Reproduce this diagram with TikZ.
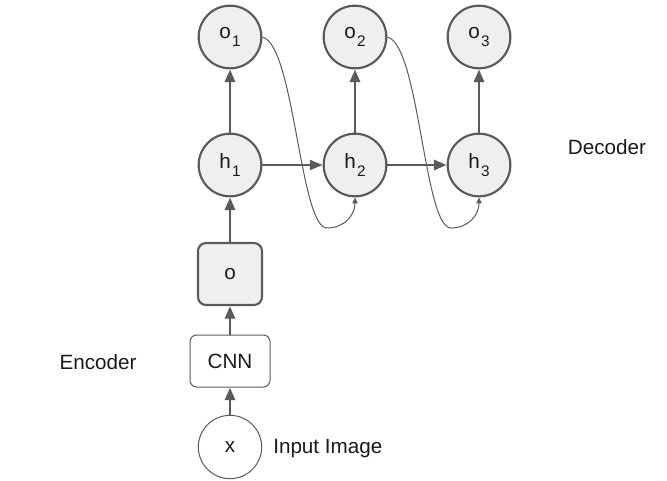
\documentclass[tikz,border=0pt]{standalone}
\usepackage{fontspec}
\setmainfont{Liberation Sans}
\usepackage{xcolor}
\usepackage{tikz}
\usetikzlibrary{arrows.meta}
\definecolor{edge}{HTML}{5A5A5A}
\definecolor{cell}{HTML}{EFEFEF}
\definecolor{ink}{HTML}{1A1A1A}
\newcommand{\lbl}{\fontsize{15.5}{18}\selectfont}
\newcommand{\idx}[1]{\kern0.8pt\raisebox{-0.8ex}{\fontsize{11.5}{13}\selectfont #1}}
\tikzset{
  unit/.style={circle, draw=edge, fill=cell, line width=1.6pt, minimum size=47pt, inner sep=0pt, text=ink, font=\lbl},
  inp/.style={circle, draw=edge, line width=0.75pt, minimum size=47.5pt, inner sep=0pt, text=ink, font=\lbl},
  featbox/.style={rectangle, rounded corners=6pt, draw=edge, fill=cell, line width=1.6pt, minimum width=48pt, minimum height=46.5pt, inner sep=0pt, text=ink, font=\lbl},
  cnnbox/.style={rectangle, rounded corners=5pt, draw=edge, line width=0.75pt, minimum width=60pt, minimum height=39pt, inner sep=0pt, text=ink, font=\lbl},
  flow/.style={draw=edge, line width=2.2pt, -{Triangle[length=9.5pt,width=7.5pt]}},
  flowthin/.style={draw=edge, line width=1.5pt, -{Triangle[length=9.5pt,width=7.5pt]}},
  skip/.style={draw=edge, line width=0.75pt, -{Triangle[length=4.5pt,width=4pt]}},
  lab/.style={text=ink, font=\lbl, inner sep=0pt},
}
\begin{document}
\begin{tikzpicture}[x=0.75pt, y=-0.75pt]
  \useasboundingbox (0,0) rectangle (667,480);
  % decoder cells
  \node[unit] (o1) at (230,37) {o\idx{1}};
  \node[unit] (o2) at (355,37) {o\idx{2}};
  \node[unit] (o3) at (479,37) {o\idx{3}};
  \node[unit] (h1) at (230,165) {h\idx{1}};
  \node[unit] (h2) at (355,165) {h\idx{2}};
  \node[unit] (h3) at (479,165) {h\idx{3}};
  % encoder
  \node[featbox] (feat) at (230,274) {o};
  \node[cnnbox] (cnn) at (230,361) {CNN};
  \node[inp] (x) at (230,447) {x};
  % labels
  \node[lab] (dec) at (607,147) {Decoder};
  \node[lab] (enc) at (98,362) {Encoder};
  \node[lab, anchor=west] (img) at (273,449) {Input Image};
  % connectors
  \draw[flow] (x) -- (cnn);
  \draw[flow] (cnn) -- (feat);
  \draw[flow] (feat) -- (h1);
  \draw[flow] (h1) -- (o1);
  \draw[flow] (h2) -- (o2);
  \draw[flow] (h3) -- (o3);
  \draw[flowthin] (h1) -- (h2);
  \draw[flow] (h2) -- (h3);
  % feedback of outputs
  \coordinate (dip1) at (327,228);
  \coordinate (dip2) at (451,228);
  \draw[skip] (o1.east) .. controls +(32,8) and +(-27,0) .. (dip1) .. controls +(18,0) and +(0,17) .. (h2.south);
  \draw[skip] (o2.east) .. controls +(32,8) and +(-27,0) .. (dip2) .. controls +(18,0) and +(0,17) .. (h3.south);
\end{tikzpicture}
\end{document}
